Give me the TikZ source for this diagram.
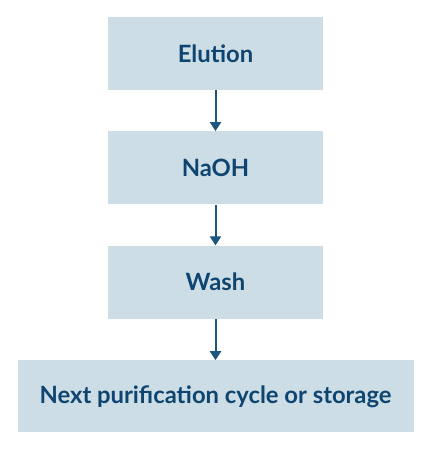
\documentclass[tikz,border=0pt]{standalone}
\usepackage{fontspec}
\setmainfont{Lato}
\usepackage{xcolor}
\usetikzlibrary{arrows.meta, positioning}

\definecolor{boxfill}{HTML}{CCDDE6}
\definecolor{boxtext}{HTML}{0E4570}
\definecolor{arrowcol}{HTML}{1A567E}

\tikzset{
	stepnode/.style = {fill = boxfill, minimum width = 215pt, minimum height = 73pt, inner sep = 0pt,
	text = boxtext, font = \fontsize{23.8pt}{27pt}\selectfont\bfseries},
	widenode/.style = {stepnode, minimum width = 396pt, minimum height = 72pt}
}

\begin{document}
\begin{tikzpicture} [x = 1pt, y = -1pt, node distance = 114.3pt, on grid]
		% Bounding box : same size as the reference
		\useasboundingbox (0,0) rectangle (430,450);

		% Start Node : Every other node is measured based to this one
		\node (elution) [stepnode] at (215.5,53.5) {Elution};

		% Middle Nodes
		\node (naoh) [stepnode, below = of elution] {NaOH};
		\node (wash) [stepnode, below = of naoh] {Wash};

		% Final Node
		\node (next) [widenode, below = of wash] {Next purification cycle or storage};

		% Draw Arrows/Connections
		\path [-{Triangle[length = 9pt, width = 11pt]}, arrowcol, line width = 2pt]
		(elution) edge [] (naoh)
		(naoh) edge [] (wash)
		(wash) edge [] (next);
	\end{tikzpicture}
\end{document}
